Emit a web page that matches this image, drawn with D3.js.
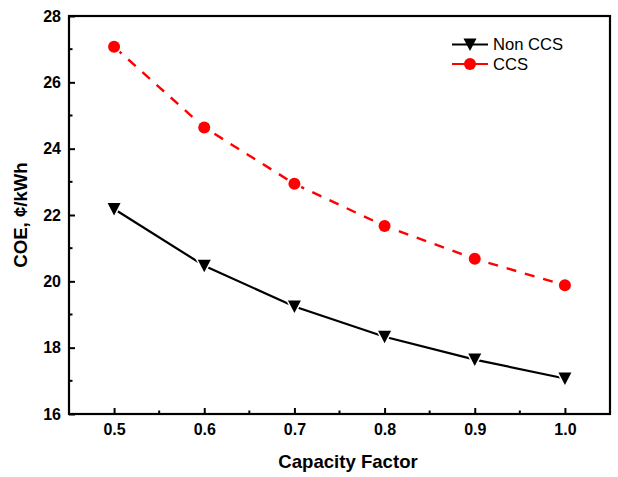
<!DOCTYPE html>
<html><head><meta charset="utf-8">
<script src="https://cdn.jsdelivr.net/npm/d3@7"></script>
<style>body{margin:0;background:#fff}svg{display:block}</style>
</head><body>
<script>
const capacityFactor = [0.5, 0.6, 0.7, 0.8, 0.9, 1.0];
const nonCCS = [22.18, 20.47, 19.24, 18.33, 17.64, 17.07];
const ccs = [27.07, 24.64, 22.94, 21.67, 20.68, 19.88];
const xTicks = [0.5, 0.6, 0.7, 0.8, 0.9, 1.0];
const yTicks = [16, 18, 20, 22, 24, 26, 28];

const W = 618, H = 477;
const m = {left: 69, right: 8, top: 16, bottom: 63};
const svg = d3.select("body").append("svg").attr("width", W).attr("height", H);
const x = d3.scaleLinear().domain([0.45, 1.05]).range([m.left, W - m.right]);
const y = d3.scaleLinear().domain([16, 28]).range([H - m.bottom, m.top]);
const font = "'Liberation Sans', Arial, sans-serif";

// axes
const xAxis = d3.axisBottom(x).tickValues(xTicks).tickFormat(d3.format(".1f")).tickSize(-6).tickPadding(10);
const yAxis = d3.axisLeft(y).tickValues(yTicks).tickFormat(d3.format("d")).tickSize(-6).tickPadding(8);
const gx = svg.append("g").attr("transform", `translate(0,${H - m.bottom})`).call(xAxis);
const gy = svg.append("g").attr("transform", `translate(${m.left},0)`).call(yAxis);
// minor ticks
const xMinor = d3.range(0.55, 1.0, 0.1);
gx.selectAll(".minor").data(xMinor).enter().append("line").attr("class","minor")
  .attr("x1", d => x(d)).attr("x2", d => x(d)).attr("y1", 0).attr("y2", -3.5)
  .attr("stroke", "#000").attr("stroke-width", 2);
const yMinor = d3.range(17, 28, 2);
gy.selectAll(".minor").data(yMinor).enter().append("line").attr("class","minor")
  .attr("y1", d => y(d)).attr("y2", d => y(d)).attr("x1", 0).attr("x2", 3.5)
  .attr("stroke", "#000").attr("stroke-width", 2);
[gx, gy].forEach(g => {
  g.select(".domain").remove();
  g.selectAll(".tick line").attr("stroke", "#000").attr("stroke-width", 2);
  g.selectAll(".tick text").attr("font-family", font).attr("font-weight", "bold")
    .attr("font-size", 16).attr("fill", "#000");
});
// frame
svg.append("rect").attr("x", m.left).attr("y", m.top)
  .attr("width", W - m.right - m.left).attr("height", H - m.bottom - m.top)
  .attr("fill", "none").attr("stroke", "#000").attr("stroke-width", 2.2);

// axis titles
svg.append("text").attr("x", 348).attr("y", 468)
  .attr("text-anchor", "middle").attr("font-family", font).attr("font-weight", "bold")
  .attr("font-size", 18.6).text("Capacity Factor");
svg.append("text").attr("transform", `translate(27,215) rotate(-90)`)
  .attr("text-anchor", "middle").attr("font-family", font).attr("font-weight", "bold")
  .attr("font-size", 18.6).text("COE, ¢/kWh");

const line = d3.line().x((d, i) => x(capacityFactor[i])).y(d => y(d));
svg.append("path").datum(ccs).attr("d", line).attr("fill", "none")
  .attr("stroke", "#f00").attr("stroke-width", 2.4).attr("stroke-dasharray", "10,9");
svg.append("path").datum(nonCCS).attr("d", line).attr("fill", "none")
  .attr("stroke", "#000").attr("stroke-width", 2.2);

const tri = "M-6.5,-6 L6.5,-6 L0,6.5 Z";
svg.selectAll(".tri").data(nonCCS).enter().append("path").attr("class","tri")
  .attr("transform", (d, i) => `translate(${x(capacityFactor[i])},${y(d)})`)
  .attr("d", tri).attr("fill", "#000").attr("stroke", "#fff").attr("stroke-width", 3)
  .attr("paint-order", "stroke");
svg.selectAll(".dot").data(ccs).enter().append("circle").attr("class","dot")
  .attr("cx", (d, i) => x(capacityFactor[i])).attr("cy", d => y(d)).attr("r", 6)
  .attr("fill", "#f00").attr("stroke", "#fff").attr("stroke-width", 3)
  .attr("paint-order", "stroke");

// legend
const lg = svg.append("g").attr("font-family", font).attr("font-size", 16.6);
const rows = [{name: "Non CCS", color: "#000", y: 44.5, shape: "tri"}, {name: "CCS", color: "#f00", y: 64, shape: "dot"}];
rows.forEach(r => {
  lg.append("line").attr("x1", 452).attr("x2", 488).attr("y1", r.y).attr("y2", r.y)
    .attr("stroke", r.color).attr("stroke-width", 2);
  if (r.shape === "tri") lg.append("path").attr("d", tri).attr("transform", `translate(470,${r.y})`).attr("fill", r.color);
  else lg.append("circle").attr("cx", 470).attr("cy", r.y).attr("r", 6).attr("fill", r.color);
  lg.append("text").attr("x", 493).attr("y", r.y).attr("dy", "0.36em").text(r.name);
});
</script>
</body></html>
